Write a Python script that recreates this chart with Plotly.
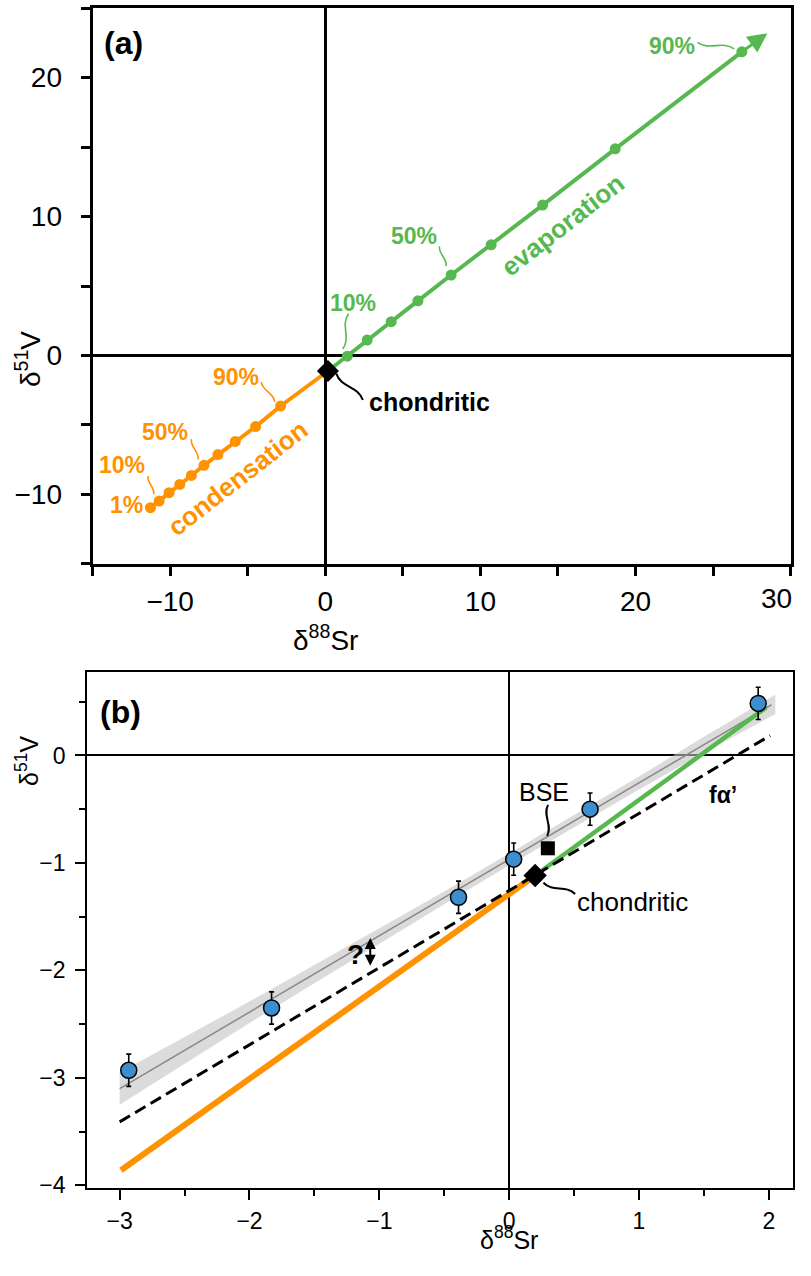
import plotly.graph_objects as go

FONT = "Liberation Sans, Arial, Helvetica, sans-serif"
GREEN = "#57b84f"
ORANGE = "#ff9200"
BLUE = "#3d8ecf"

# ---------------- Panel (a) data ----------------
cond_x = [-11.27, -10.71, -10.07, -9.38, -8.63, -7.82, -6.92, -5.80, -4.49, -2.88]
cond_y = [-10.96, -10.48, -9.88, -9.29, -8.64, -7.91, -7.14, -6.19, -5.12, -3.64]
evap_x = [1.42, 2.70, 4.25, 5.97, 8.11, 10.69, 14.01, 18.69, 26.85]
evap_y = [-0.05, 1.11, 2.43, 3.93, 5.79, 7.97, 10.83, 14.88, 21.86]
chond_a = [0.17, -1.12]
arrow_tip_a = [28.5, 23.2]
a_xticks = [-10, 0, 10, 20, 30]
a_xticktext = ["−10", "0", "10", "20", ""]   # "30" is written as a label at the right edge

# ---------------- Panel (b) data ----------------
samp_x = [-2.93, -1.83, -0.39, 0.035, 0.623, 1.918]
samp_y = [-2.93, -2.35, -1.32, -0.965, -0.50, 0.484]
samp_err = [0.15, 0.15, 0.15, 0.15, 0.15, 0.15]
band_x = [-3.0, -2.5, -2.0, -1.5, -1.0, -0.5, 0.0, 0.5, 1.0, 1.5, 2.05]
band_hi = [-2.95, -2.62, -2.29, -1.95, -1.61, -1.265, -0.912, -0.557, -0.196, 0.175, 0.565]
band_lo = [-3.25, -2.87, -2.49, -2.12, -1.75, -1.385, -1.022, -0.667, -0.316, 0.025, 0.385]
fit_x = [-3.0, 2.02]
fit_y = [-3.10, 0.47]
falpha_x = [-3.0, 2.01]
falpha_y = [-3.41, 0.185]
orange_b_x = [-2.99, 0.2]
orange_b_y = [-3.86, -1.117]
green_b_x = [0.2, 1.98]
green_b_y = [-1.117, 0.447]
chond_b = [0.2, -1.117]
bse_b = [0.298, -0.864]

# figure kept a little smaller than the window so the page never overflows
FW, FH = 795, 1260


def fx(px):
    return px / FW


def fy(py):
    return 1 - py / FH


# pixel geometry of the plot boxes
A_L, A_R, A_T, A_B = 92.7, 791.7, 8.3, 568.3
B_L, B_R, B_T, B_B = 87.3, 793.5, 677.0, 1198.0
A_XR, A_YR = [-15, 30], [-15, 25]
B_XR, B_YR = [-3.25, 2.1823], [-4.03, 0.78]


def px_a(x, y):
    return (A_L + (x - A_XR[0]) / (A_XR[1] - A_XR[0]) * (A_R - A_L),
            A_B - (y - A_YR[0]) / (A_YR[1] - A_YR[0]) * (A_B - A_T))


def px_b(x, y):
    return (B_L + (x - B_XR[0]) / (B_XR[1] - B_XR[0]) * (B_R - B_L),
            B_B - (y - B_YR[0]) / (B_YR[1] - B_YR[0]) * (B_B - B_T))


def wavy(p0, p1, panel, amp=0.18):
    """S-shaped leader between two data points (path in data coords)."""
    if panel == "a":
        sx = (A_XR[1] - A_XR[0]) / (A_R - A_L)
        sy = (A_YR[1] - A_YR[0]) / (A_B - A_T)
        tf = px_a
    else:
        sx = (B_XR[1] - B_XR[0]) / (B_R - B_L)
        sy = (B_YR[1] - B_YR[0]) / (B_B - B_T)
        tf = px_b
    a = tf(*p0)
    b = tf(*p1)
    dx, dy = b[0] - a[0], b[1] - a[1]
    nx, ny = -dy * amp, dx * amp
    c1 = (a[0] + dx * 0.35 + nx, a[1] + dy * 0.35 + ny)
    c2 = (a[0] + dx * 0.65 - nx, a[1] + dy * 0.65 - ny)

    def back(p):
        if panel == "a":
            return (A_XR[0] + (p[0] - A_L) * sx, A_YR[0] + (A_B - p[1]) * sy)
        return (B_XR[0] + (p[0] - B_L) * sx, B_YR[0] + (B_B - p[1]) * sy)
    pts = [p0, back(c1), back(c2), p1]
    return "M {},{} C {},{} {},{} {},{}".format(*[v for p in pts for v in p])


fig = go.Figure()

# ---- Panel (a) traces ----
fig.add_trace(go.Scatter(x=cond_x + [chond_a[0]], y=cond_y + [chond_a[1]], mode="lines",
                         line=dict(color=ORANGE, width=4), xaxis="x", yaxis="y", showlegend=False))
fig.add_trace(go.Scatter(x=cond_x, y=cond_y, mode="markers",
                         marker=dict(color=ORANGE, size=11), xaxis="x", yaxis="y", showlegend=False))
fig.add_trace(go.Scatter(x=[chond_a[0]] + evap_x, y=[chond_a[1]] + evap_y, mode="lines",
                         line=dict(color=GREEN, width=4), xaxis="x", yaxis="y", showlegend=False))
fig.add_trace(go.Scatter(x=evap_x, y=evap_y, mode="markers",
                         marker=dict(color=GREEN, size=11), xaxis="x", yaxis="y", showlegend=False))
fig.add_trace(go.Scatter(x=[chond_a[0]], y=[chond_a[1]], mode="markers",
                         marker=dict(color="black", size=17, symbol="diamond"),
                         xaxis="x", yaxis="y", showlegend=False))

# ---- Panel (b) traces ----
fig.add_trace(go.Scatter(x=band_x + band_x[::-1], y=band_hi + band_lo[::-1], fill="toself",
                         fillcolor="rgba(195,195,195,0.6)", line=dict(width=0), mode="lines",
                         xaxis="x2", yaxis="y2", showlegend=False, hoverinfo="skip"))
fig.add_trace(go.Scatter(x=fit_x, y=fit_y, mode="lines", line=dict(color="#888888", width=1.5),
                         xaxis="x2", yaxis="y2", showlegend=False))
fig.add_trace(go.Scatter(x=orange_b_x, y=orange_b_y, mode="lines", line=dict(color=ORANGE, width=6),
                         xaxis="x2", yaxis="y2", showlegend=False))
fig.add_trace(go.Scatter(x=green_b_x, y=green_b_y, mode="lines", line=dict(color=GREEN, width=4.5),
                         xaxis="x2", yaxis="y2", showlegend=False))
fig.add_trace(go.Scatter(x=falpha_x, y=falpha_y, mode="lines",
                         line=dict(color="black", width=3, dash="12px,6px"),
                         xaxis="x2", yaxis="y2", showlegend=False))
fig.add_trace(go.Scatter(x=samp_x, y=samp_y, mode="markers",
                         error_y=dict(type="data", array=samp_err, color="black", thickness=1.6, width=2.5),
                         marker=dict(color=BLUE, size=16, line=dict(color="black", width=1.5)),
                         xaxis="x2", yaxis="y2", showlegend=False))
fig.add_trace(go.Scatter(x=[bse_b[0]], y=[bse_b[1]], mode="markers",
                         marker=dict(color="black", size=14, symbol="square"),
                         xaxis="x2", yaxis="y2", showlegend=False))
fig.add_trace(go.Scatter(x=[chond_b[0]], y=[chond_b[1]], mode="markers",
                         marker=dict(color="black", size=18, symbol="diamond"),
                         xaxis="x2", yaxis="y2", showlegend=False))

ann = []


def txt(x, y, s, size, color="black", bold=False, xref="x", yref="y", angle=0):
    ann.append(dict(x=x, y=y, xref=xref, yref=yref, text=("<b>%s</b>" % s) if bold else s,
                    showarrow=False, textangle=angle, xanchor="center", yanchor="middle",
                    font=dict(family=FONT, size=size, color=color)))


def ptxt(xp, yp, s, size, angle=0, xanchor="center"):
    ann.append(dict(x=fx(xp), y=fy(yp), xref="paper", yref="paper", text=s,
                    showarrow=False, textangle=angle, xanchor=xanchor, yanchor="middle",
                    font=dict(family=FONT, size=size, color="black")))


# panel (a) labels
txt(-12.8, -10.8, "1%", 23, ORANGE, True)
txt(-13.1, -7.86, "10%", 23, ORANGE, True)
txt(-10.35, -5.48, "50%", 23, ORANGE, True)
txt(-5.73, -1.55, "90%", 23, ORANGE, True)
txt(-5.63, -8.81, "condensation", 26, ORANGE, True, angle=-38)
txt(1.78, 3.80, "10%", 23, GREEN, True)
txt(5.72, 8.60, "50%", 23, GREEN, True)
txt(22.38, 22.26, "90%", 23, GREEN, True)
txt(15.3, 9.4, "evaporation", 26, GREEN, True, angle=-38)
txt(6.72, -3.34, "chondritic", 25, "black", True)
ann.append(dict(x=A_XR[0], y=A_YR[1], xref="x", yref="y", xanchor="left", yanchor="top",
                xshift=9, yshift=-15, text="<b>(a)</b>", showarrow=False,
                font=dict(family=FONT, size=32, color="black")))
# arrow at end of evaporation trend
ann.append(dict(x=arrow_tip_a[0], y=arrow_tip_a[1], ax=evap_x[-1], ay=evap_y[-1],
                xref="x", yref="y", axref="x", ayref="y", text="", showarrow=True,
                arrowhead=2, arrowsize=1.3, arrowwidth=3, arrowcolor=GREEN))
# last x tick label of panel (a), kept inside the page
ptxt(FW, 603, str(a_xticks[-1]), 28, xanchor="right")

# panel (b) labels
txt(0.265, -0.34, "BSE", 25, "black", False, "x2", "y2")
txt(1.65, -0.37, "fα’", 23, "black", True, "x2", "y2")
txt(0.95, -1.36, "chondritic", 26, "black", False, "x2", "y2")
txt(-1.185, -1.85, "?", 28, "black", True, "x2", "y2")
ann.append(dict(x=-1.07, y=-1.70, ax=-1.07, ay=-1.97, xref="x2", yref="y2", axref="x2", ayref="y2",
                text="", showarrow=True, arrowhead=2, arrowside="end+start", arrowsize=1.1,
                arrowwidth=2, arrowcolor="black"))
ann.append(dict(x=B_XR[0], y=B_YR[1], xref="x2", yref="y2", xanchor="left", yanchor="top",
                xshift=11, yshift=-20, text="<b>(b)</b>", showarrow=False,
                font=dict(family=FONT, size=32, color="black")))

# axis titles
ptxt(px_a(0, 0)[0], 643, "δ<sup>88</sup>Sr", 28)
ptxt(28, 362, "δ<sup>51</sup>V", 28, -90)
ptxt(px_b(0, 0)[0], 1248, "δ<sup>88</sup>Sr", 25)
ptxt(27, 767, "δ<sup>51</sup>V", 25, -90)

shapes = []


def leader(p0, p1, panel, color, width=1.6, amp=0.18):
    shapes.append(dict(type="path", path=wavy(p0, p1, panel, amp),
                       xref="x" if panel == "a" else "x2", yref="y" if panel == "a" else "y2",
                       line=dict(color=color, width=width)))


leader((-11.42, -8.69), (-11.06, -10.0), "a", ORANGE)
leader((-8.63, -6.03), (-8.20, -7.50), "a", ORANGE)
leader((-4.12, -1.91), (-3.26, -3.34), "a", ORANGE)
leader((1.50, 3.00), (1.13, 0.47), "a", GREEN)
leader((7.36, 7.86), (7.79, 6.43), "a", GREEN)
leader((23.99, 22.54), (26.35, 22.07), "a", GREEN)
leader((0.71, -1.31), (2.42, -3.21), "a", "black", 2.0)
leader((0.30, -0.46), (0.292, -0.75), "b", "black", 2.0)
leader((0.264, -1.185), (0.508, -1.29), "b", "black", 2.0)

axis_common = dict(showline=True, mirror=True, linecolor="black", ticks="outside",
                   tickcolor="black", showgrid=False, zeroline=True, zerolinecolor="black")

fig.update_layout(
    width=FW, height=FH, margin=dict(l=0, r=0, t=0, b=0), autosize=False,
    paper_bgcolor="white", plot_bgcolor="white", showlegend=False,
    annotations=ann, shapes=shapes,
    xaxis=dict(domain=[fx(A_L), fx(A_R)], range=A_XR, tickvals=a_xticks, ticktext=a_xticktext,
               linewidth=3, tickwidth=3, ticklen=9, zerolinewidth=3, anchor="y",
               ticklabelstandoff=2,
               minor=dict(tickvals=[-15, -5, 5, 15, 25], ticklen=9, tickwidth=3, tickcolor="black",
                          ticks="outside"),
               tickfont=dict(family=FONT, size=28, color="black"), **axis_common),
    yaxis=dict(domain=[fy(A_B), fy(A_T)], range=A_YR, tickvals=[-10, 0, 10, 20],
               linewidth=3, tickwidth=3, ticklen=9, zerolinewidth=3, anchor="x",
               ticklabelstandoff=13,
               minor=dict(tickvals=[-15, -5, 5, 15, 25], ticklen=9, tickwidth=3, tickcolor="black",
                          ticks="outside"),
               tickfont=dict(family=FONT, size=28, color="black"), **axis_common),
    xaxis2=dict(domain=[fx(B_L), fx(B_R)], range=B_XR, tickvals=[-3, -2, -1, 0, 1, 2],
                linewidth=2, tickwidth=2, ticklen=10, zerolinewidth=1.5, anchor="y2",
                ticklabelstandoff=1,
                minor=dict(tickvals=[-2.5, -1.5, -0.5, 0.5, 1.5], ticklen=6, tickwidth=2,
                           tickcolor="black", ticks="outside"),
                tickfont=dict(family=FONT, size=23, color="black"), **axis_common),
    yaxis2=dict(domain=[fy(B_B), fy(B_T)], range=B_YR, tickvals=[-4, -3, -2, -1, 0],
                linewidth=2, tickwidth=2, ticklen=10, zerolinewidth=1.5, anchor="x2",
                ticklabelstandoff=5,
                minor=dict(tickvals=[-3.5, -2.5, -1.5, -0.5, 0.5], ticklen=6, tickwidth=2,
                           tickcolor="black", ticks="outside"),
                tickfont=dict(family=FONT, size=23, color="black"), **axis_common),
)

fig.write_html("out.html")
